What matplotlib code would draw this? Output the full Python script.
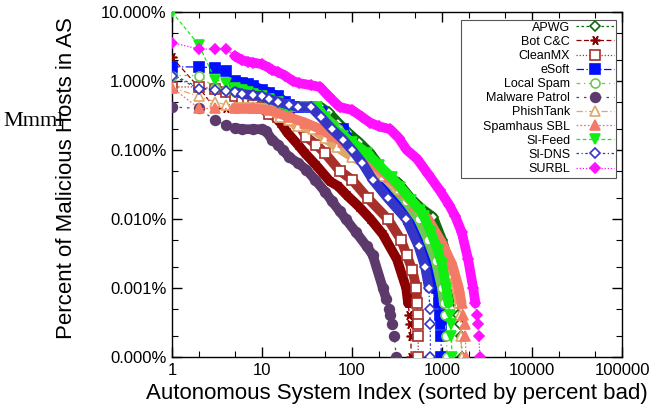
import numpy as np
import matplotlib
matplotlib.use("Agg")
import matplotlib.pyplot as plt
from matplotlib.patches import Rectangle
from matplotlib.ticker import FixedLocator, FuncFormatter, NullFormatter

# ranks and percentages, one pair of lists per feed
apwg_rank = [1, 2, 3, 4, 5, 6, 8, 10, 13, 16, 20, 30, 45, 55, 70, 90, 120, 160, 220, 263, 330,
             450, 600, 795, 1000, 1230, 1350, 1450, 1520, 1570, 1620, 1680]
apwg_pct = [1.25, 0.8, 0.75, 0.7, 0.65, 0.62, 0.6, 0.55, 0.5, 0.45, 0.42, 0.42, 0.42, 0.35, 0.25,
            0.18, 0.13, 0.09, 0.051, 0.041, 0.033, 0.02, 0.014, 0.0107, 0.005, 0.0021, 0.001,
            0.0006, 0.0004, 0.0003, 0.0002, 0.0001]

botcc_rank = [1, 2, 3, 4, 5, 6, 7, 8, 10, 12, 14, 16, 19, 25, 30, 40, 57, 70, 88, 120, 160, 220,
              316, 400, 420, 435, 445, 450, 455]
botcc_pct = [2.2, 0.8, 0.4, 0.4, 0.4, 0.4, 0.4, 0.4, 0.4, 0.38, 0.3, 0.25, 0.18, 0.12, 0.09, 0.06,
             0.035, 0.03, 0.022, 0.015, 0.01, 0.006, 0.0026, 0.001, 0.0006, 0.0004, 0.0003,
             0.0002, 0.0001]

cleanmx_rank = [1, 2, 3, 4, 5, 6, 7, 8, 10, 12, 15, 20, 25, 31, 40, 50, 73, 100, 150, 250, 350,
                406, 470, 520, 530, 535, 540, 543, 545]
cleanmx_pct = [0.82, 0.82, 0.77, 0.7, 0.6, 0.55, 0.5, 0.45, 0.4, 0.33, 0.3, 0.3, 0.25, 0.155,
               0.12, 0.09, 0.05, 0.037, 0.02, 0.01, 0.005, 0.003, 0.0018, 0.001, 0.0006, 0.0004,
               0.0003, 0.0002, 0.0001]

esoft_rank = [1, 2, 3, 4, 5, 6, 7, 8, 10, 12, 15, 18, 20, 26, 35, 45, 61, 80, 100, 113, 146, 190,
              286, 435, 610, 750, 890, 930, 950, 965, 975, 980]
esoft_pct = [1.6, 1.6, 1.55, 1.4, 1.0, 0.95, 0.9, 0.85, 0.75, 0.68, 0.6, 0.5, 0.45, 0.42, 0.42,
             0.35, 0.2, 0.2, 0.12, 0.09, 0.072, 0.05, 0.02, 0.01, 0.004, 0.002, 0.001, 0.0006,
             0.0004, 0.0003, 0.0002, 0.0001]

local_rank = [1, 2, 3, 4, 5, 7, 10, 15, 20, 35, 50, 70, 100, 150, 200, 300, 400, 550, 700, 850,
              1000, 1050, 1080, 1110, 1150]
local_pct = [1.2, 1.2, 0.8, 0.75, 0.7, 0.65, 0.6, 0.5, 0.42, 0.42, 0.3, 0.2, 0.12, 0.075, 0.05,
             0.028, 0.018, 0.01, 0.005, 0.0025, 0.001, 0.0006, 0.0004, 0.0002, 0.0001]

mp_rank = [1, 2, 3, 4, 5, 6, 8, 10, 11, 13, 15, 17, 20, 25, 31, 39, 50, 60, 73, 85, 110, 146, 170,
           220, 240, 255, 264, 280, 295, 310]
mp_pct = [0.42, 0.4, 0.27, 0.23, 0.21, 0.2, 0.2, 0.2, 0.19, 0.14, 0.12, 0.1, 0.079, 0.065, 0.052,
          0.037, 0.025, 0.018, 0.013, 0.01, 0.0065, 0.004, 0.003, 0.001, 0.0007, 0.0005, 0.0004,
          0.0003, 0.0002, 0.0001]

phish_rank = [1, 2, 3, 4, 5, 8, 12, 16, 20, 25, 37, 50, 68, 100, 150, 220, 330, 500, 700, 900,
              1100, 1300, 1450, 1550, 1600, 1630, 1650]
phish_pct = [0.8, 0.6, 0.5, 0.45, 0.42, 0.42, 0.4, 0.3, 0.27, 0.22, 0.2, 0.15, 0.11, 0.08, 0.06,
             0.042, 0.027, 0.016, 0.009, 0.0055, 0.0032, 0.0016, 0.001, 0.0006, 0.0004, 0.0002,
             0.0001]

sbl_rank = [1, 2, 3, 5, 8, 12, 20, 30, 45, 60, 80, 120, 180, 260, 380, 500, 700, 1000, 1300, 1540,
            1650, 1720, 1780, 1820, 1850]
sbl_pct = [0.8, 0.4, 0.4, 0.4, 0.4, 0.38, 0.3, 0.25, 0.2, 0.16, 0.13, 0.09, 0.06, 0.04, 0.025,
           0.016, 0.01, 0.0045, 0.0022, 0.001, 0.0006, 0.0004, 0.0003, 0.0002, 0.0001]

sifeed_rank = [1, 2, 3, 4, 5, 6, 7, 8, 10, 12, 15, 18, 20, 30, 41, 50, 61, 80, 100, 146, 200, 275,
               343, 450, 570, 625, 750, 900, 1000, 1120, 1180, 1220, 1250, 1270, 1290]
sifeed_pct = [10.0, 3.3, 1.05, 0.95, 0.8, 0.75, 0.7, 0.65, 0.6, 0.55, 0.5, 0.45, 0.42, 0.42, 0.42,
              0.3, 0.215, 0.16, 0.13, 0.091, 0.06, 0.04, 0.029, 0.019, 0.0135, 0.011, 0.0065,
              0.0035, 0.0022, 0.001, 0.0006, 0.0004, 0.0003, 0.0002, 0.0001]

sidns_rank = [1, 2, 3, 4, 5, 6, 8, 10, 12, 15, 20, 25, 35, 45, 60, 80, 100, 130, 170, 250, 400,
              550, 650, 715, 730, 740, 745]
sidns_pct = [1.2, 0.77, 0.75, 0.72, 0.7, 0.65, 0.62, 0.6, 0.55, 0.5, 0.45, 0.42, 0.42, 0.3, 0.2,
             0.14, 0.1, 0.065, 0.037, 0.02, 0.01, 0.004, 0.002, 0.001, 0.0005, 0.0003, 0.0001]

surbl_rank = [1, 2, 3, 4, 5, 6, 7, 8, 10, 12, 13, 15, 18, 22, 26, 35, 44, 55, 73, 100, 130, 158,
              200, 265, 330, 406, 526, 700, 944, 1200, 1400, 1650, 1950, 2220, 2350, 2450, 2530,
              2580, 2630]
surbl_pct = [3.6, 2.9, 2.9, 2.9, 2.3, 2.0, 1.9, 1.85, 1.75, 1.55, 1.44, 1.35, 1.2, 1.0, 0.93,
             0.87, 0.82, 0.6, 0.42, 0.38, 0.3, 0.25, 0.22, 0.2, 0.15, 0.1, 0.075, 0.045, 0.026,
             0.016, 0.011, 0.0065, 0.0026, 0.001, 0.0006, 0.0004, 0.0003, 0.0002, 0.0001]

names = ["APWG", "Bot C&C", "CleanMX", "eSoft", "Local Spam", "Malware Patrol", "PhishTank",
         "Spamhaus SBL", "SI-Feed", "SI-DNS", "SURBL"]
ranks = [apwg_rank, botcc_rank, cleanmx_rank, esoft_rank, local_rank, mp_rank, phish_rank,
         sbl_rank, sifeed_rank, sidns_rank, surbl_rank]
pcts = [apwg_pct, botcc_pct, cleanmx_pct, esoft_pct, local_pct, mp_pct, phish_pct,
        sbl_pct, sifeed_pct, sidns_pct, surbl_pct]

colors = ["#0b6b0b", "#8b0000", "#a8302a", "#0010ff", "#70c850", "#5c3a6c", "#e0a868",
          "#f47a68", "#11ee11", "#3535c8", "#ff10ff"]
markers = ["D", (6, 2, 90), "s", "s", "o", "o", "^", "^", "v", "D", "D"]
filled = [False, True, False, True, False, True, False, True, True, False, True]
sizes = [5.5, 7, 6.5, 6.5, 6.5, 7, 6.5, 6.5, 6.5, 5.5, 5.5]
styles = [(0, (2, 2)), (0, (4, 2)), (0, (1, 1.5)), (0, (6, 2, 1, 2)), (0, (3, 3, 1, 3)),
          (0, (2, 4)), (0, (5, 2, 1, 2)), (0, (1.5, 1.5)), (0, (3, 2)), (0, (2, 2, 1, 2)),
          (0, (1, 1.5))]

plt.rcParams["font.family"] = ["Liberation Sans", "DejaVu Sans"]

fig = plt.figure(figsize=(6.54, 4.12), dpi=100)
ax = fig.add_axes([172 / 654, 55 / 412, 450 / 654, 345 / 412])

for i, (name, r, v) in enumerate(zip(names, ranks, pcts)):
    r = np.array(r, float); v = np.array(v, float)
    c = colors[i]; z = 2 + i
    band = (r >= 5) & (v >= 0.0006)
    ax.plot(r[band], v[band], "-", color=c, lw=7, solid_capstyle="round",
            solid_joinstyle="round", zorder=z)
    ax.plot(r, v, ls=styles[i], lw=0.9, color=c, marker=markers[i], ms=sizes[i],
            mfc=c if filled[i] else "white", mec=c, mew=1.2, label=name, zorder=z + 0.5)

ax.set_xscale("log"); ax.set_yscale("log")
ax.set_xlim(1, 100000); ax.set_ylim(0.0001, 10)
ax.xaxis.set_major_locator(FixedLocator([1, 10, 100, 1000, 10000, 100000]))
ax.xaxis.set_major_formatter(FuncFormatter(lambda v, p: f"{v:.0f}"))
ax.xaxis.set_minor_locator(FixedLocator([m * 10.0 ** k for k in range(5) for m in (2, 5)]))
ax.xaxis.set_minor_formatter(NullFormatter())
ax.yaxis.set_major_locator(FixedLocator([0.0001, 0.001, 0.01, 0.1, 1, 10]))
ax.yaxis.set_major_formatter(FuncFormatter(lambda v, p: f"{v:.3f}%"))
ax.yaxis.set_minor_locator(FixedLocator([m * 10.0 ** k for k in range(-4, 1) for m in (2, 5)]))
ax.yaxis.set_minor_formatter(NullFormatter())
ax.tick_params(which="both", direction="in", top=True, right=True, labelsize=12)
ax.tick_params(which="major", length=7, width=1, pad=4)
ax.tick_params(which="minor", length=4, width=0.8)
for s in ax.spines.values():
    s.set_linewidth(1)

# gnuplot-style key: right-aligned labels with the sample to their right, in a plain box
ax.add_patch(Rectangle((0.642, 0.519), 0.345, 0.458, transform=ax.transAxes, facecolor="white",
                       edgecolor="#555555", lw=0.8, zorder=19))
leg = ax.legend(loc="upper right", bbox_to_anchor=(0.982, 0.972), borderaxespad=0,
                fontsize=9, markerfirst=False, numpoints=1, handlelength=3.0,
                labelspacing=0.17, borderpad=0.0, handletextpad=0.5, frameon=False)
leg.set_zorder(20)

fig.text(397 / 654, 1 - 394 / 412, "Autonomous System Index (sorted by percent bad)",
         ha="center", va="center", fontsize=16)
fig.text(67 / 654, 1 - 178 / 412, "Percent of Malicious Hosts in AS", rotation=90,
         ha="center", va="center", fontsize=16)
fig.text(3 / 654, 1 - 126 / 412, "Mmml", family="Liberation Serif", fontsize=16,
         ha="left", va="baseline")

fig.savefig("out.png", dpi=100)
